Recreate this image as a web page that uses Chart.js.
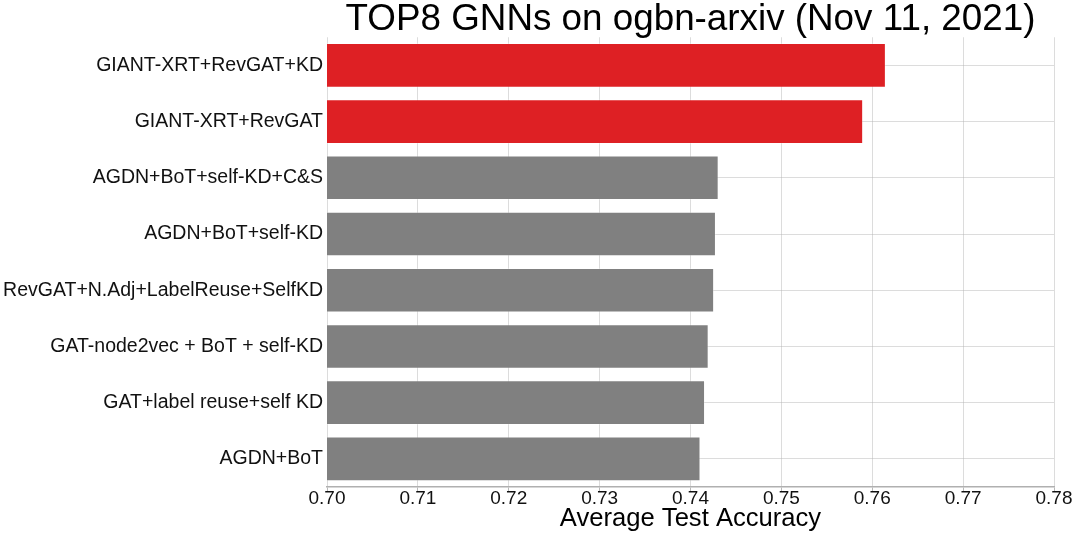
<!DOCTYPE html>
<html>
<head>
<meta charset="utf-8">
<script src="https://cdn.jsdelivr.net/npm/chart.js@4"></script>
<style>
  html, body { margin: 0; padding: 0; background: #fff; }
  #wrap { width: 1076px; height: 537px; }
</style>
</head>
<body>
<div id="wrap"><canvas id="bars" width="1076" height="537"></canvas></div>
<script>
// leaderboard values
var methods = [
    'GIANT-XRT+RevGAT+KD',
    'GIANT-XRT+RevGAT',
    'AGDN+BoT+self-KD+C&S',
    'AGDN+BoT+self-KD',
    'RevGAT+N.Adj+LabelReuse+SelfKD',
    'GAT-node2vec + BoT + self-KD',
    'GAT+label reuse+self KD',
    'AGDN+BoT'
];
var accuracy = [0.7615, 0.7590, 0.7431, 0.7428, 0.7426, 0.7420, 0.7416, 0.7411];
var xTicks = [0.70, 0.71, 0.72, 0.73, 0.74, 0.75, 0.76, 0.77, 0.78];
var highlighted = ['GIANT-XRT+RevGAT+KD', 'GIANT-XRT+RevGAT'];

var RED = 'rgb(222, 32, 36)';
var GRAY = 'rgb(128, 128, 128)';
var GRID = 'rgba(177, 177, 177, 0.45)';
var FONT = "'Liberation Sans', Arial, sans-serif";

var ctx = document.getElementById('bars').getContext('2d');
var chart = new Chart(ctx, {
    type: 'bar',
    data: {
        labels: methods,
        datasets: [{
            label: 'Average Test Accuracy',
            data: accuracy,
            backgroundColor: function (c) {
                return highlighted.indexOf(methods[c.dataIndex]) >= 0 ? RED : GRAY;
            },
            borderColor: 'rgba(255, 255, 255, 0.25)',
            borderWidth: 1,
            borderSkipped: false,
            barPercentage: 0.794,
            categoryPercentage: 1.0
        }]
    },
    options: {
        indexAxis: 'y',
        responsive: false,
        animation: false,
        layout: { padding: { left: 0, right: 22, top: 0, bottom: 0 } },
        plugins: {
            legend: { display: false },
            tooltip: { enabled: false },
            title: {
                display: true,
                text: 'TOP8 GNNs on ogbn-arxiv (Nov 11, 2021)',
                fullSize: false,
                color: '#000',
                font: { family: FONT, size: 36.8, weight: 'normal', lineHeight: 0.95 },
                padding: { top: 2, bottom: 0.3 }
            }
        },
        scales: {
            x: {
                min: 0.70,
                max: 0.78,
                z: 1,
                afterBuildTicks: function (scale) {
                    scale.ticks = xTicks.map(function (v) { return { value: v }; });
                },
                afterFit: function (scale) { scale.height = 50; },
                ticks: {
                    color: '#111',
                    font: { family: FONT, size: 19 },
                    padding: -4,
                    maxRotation: 0,
                    callback: function (v) { return Number(v).toFixed(2); }
                },
                grid: { color: GRID, tickLength: 4, tickColor: '#b8b8b8' },
                border: { display: true, color: '#b0b0b0', width: 1.5 },
                title: {
                    display: true,
                    text: 'Average Test Accuracy',
                    color: '#000',
                    font: { family: FONT, size: 25.6 },
                    padding: { top: 0, bottom: 3 }
                }
            },
            y: {
                z: 1,
                afterFit: function (scale) { scale.width = 327; },
                ticks: {
                    color: '#111',
                    font: { family: FONT, size: 19.5 },
                    padding: 4
                },
                grid: { color: GRID, offset: false, drawTicks: false },
                border: { display: false }
            }
        }
    }
});
</script>
</body>
</html>
